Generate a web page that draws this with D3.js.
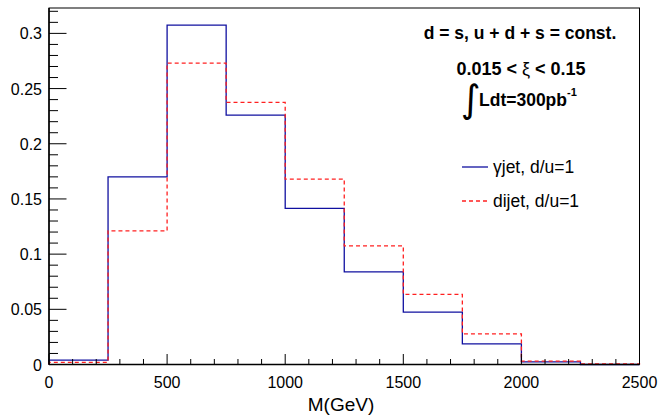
<!DOCTYPE html>
<html><head><meta charset="utf-8">
<script src="https://cdn.jsdelivr.net/npm/d3@7"></script>
<style>body{margin:0;background:#fff}svg{display:block}</style>
</head><body>
<script>
const binEdges = [0,250,500,750,1000,1250,1500,1750,2000,2250,2500];
const gammaJet = [0.004,0.170,0.3075,0.226,0.1415,0.084,0.0475,0.0187,0.0023,0.0];
const diJet    = [0.002,0.121,0.273,0.2375,0.168,0.1075,0.0635,0.0277,0.0030,0.0006];
const xTicks = [0,500,1000,1500,2000,2500];
const yTicks = [0,0.05,0.1,0.15,0.2,0.25,0.3];

const W=658,H=416;
const svg=d3.select("body").append("svg").attr("width",W).attr("height",H)
  .style("font-family","'Liberation Sans',Arial,sans-serif");
const x=d3.scaleLinear().domain([0,2500]).range([49,639.5]);
const y=d3.scaleLinear().domain([0,0.323]).range([364.5,8]);

svg.append("rect").attr("x",x(0)).attr("y",y(0.323)).attr("width",x(2500)-x(0)).attr("height",y(0)-y(0.323))
  .attr("fill","none").attr("stroke","#000").attr("stroke-width",1);

function stepPath(vals){
  let d=`M${x(binEdges[0])},${y(0)}`;
  vals.forEach((v,i)=>{d+=`L${x(binEdges[i])},${y(v)}L${x(binEdges[i+1])},${y(v)}`;});
  d+=`L${x(binEdges[binEdges.length-1])},${y(0)}`;
  return d;
}
svg.append("path").attr("d",stepPath(gammaJet)).attr("fill","none").attr("stroke","#1010a0").attr("stroke-width",1.3);
svg.append("path").attr("d",stepPath(diJet)).attr("fill","none").attr("stroke","#ff2020").attr("stroke-width",1.3).attr("stroke-dasharray","4,3");

const xAxis=svg.append("g");
xAxis.append("line").attr("x1",x(0)).attr("x2",x(2500)).attr("y1",y(0)).attr("y2",y(0)).attr("stroke","#000").attr("stroke-width",1.5);
d3.range(0,2501,100).forEach(v=>{
  const major = v%500===0;
  xAxis.append("line").attr("x1",x(v)).attr("x2",x(v)).attr("y1",y(0)).attr("y2",y(0)-(major?10.5:5.5)).attr("stroke","#000");
});
xAxis.selectAll("text.tl").data(xTicks).enter().append("text")
  .attr("x",d=>x(d)).attr("y",388).attr("text-anchor","middle").attr("font-size",16).text(d=>d);
svg.append("text").attr("x",341).attr("y",411).attr("text-anchor","middle").attr("font-size",19).text("M(GeV)");

const yAxis=svg.append("g");
yAxis.append("line").attr("x1",x(0)).attr("x2",x(0)).attr("y1",y(0)).attr("y2",y(0.323)).attr("stroke","#000").attr("stroke-width",1.5);
d3.range(0,33).forEach(i=>{
  const v=i*0.01; const major = i%5===0;
  yAxis.append("line").attr("x1",x(0)).attr("x2",x(0)+(major?17.5:9)).attr("y1",y(v)).attr("y2",y(v)).attr("stroke","#000");
});
yAxis.selectAll("text.tl").data(yTicks).enter().append("text")
  .attr("x",42).attr("y",d=>y(d)+6).attr("text-anchor","end").attr("font-size",16)
  .text(d=>d===0?"0":String(+d.toFixed(2)));

svg.append("text").attr("x",520).attr("y",39).attr("text-anchor","middle").attr("font-size",17.5).attr("font-weight","bold")
  .text("d = s, u + d + s = const.");
const xi=svg.append("text").attr("x",521).attr("y",75).attr("text-anchor","middle").attr("font-size",18).attr("font-weight","bold");
xi.append("tspan").text("0.015 < ");
xi.append("tspan").attr("font-weight","normal").text("ξ");
xi.append("tspan").text(" < 0.15");
svg.append("text").attr("x",461).attr("y",112).attr("font-size",38).attr("font-family","'DejaVu Sans',sans-serif").text("∫");
const lt=svg.append("text").attr("x",479).attr("y",106).attr("font-size",17.5).attr("font-weight","bold");
lt.append("tspan").text("Ldt=300pb");
lt.append("tspan").attr("dy",-10).attr("font-size",11).text("-1");

svg.append("line").attr("x1",462).attr("x2",488).attr("y1",167).attr("y2",167).attr("stroke","#1010a0").attr("stroke-width",1.3);
svg.append("text").attr("x",493).attr("y",173).attr("font-size",17.5).text("γjet, d/u=1");
svg.append("line").attr("x1",462).attr("x2",488).attr("y1",201).attr("y2",201).attr("stroke","#ff2020").attr("stroke-width",1.3).attr("stroke-dasharray","4,3");
svg.append("text").attr("x",493).attr("y",207).attr("font-size",17.5).text("dijet, d/u=1");
</script>
</body></html>
